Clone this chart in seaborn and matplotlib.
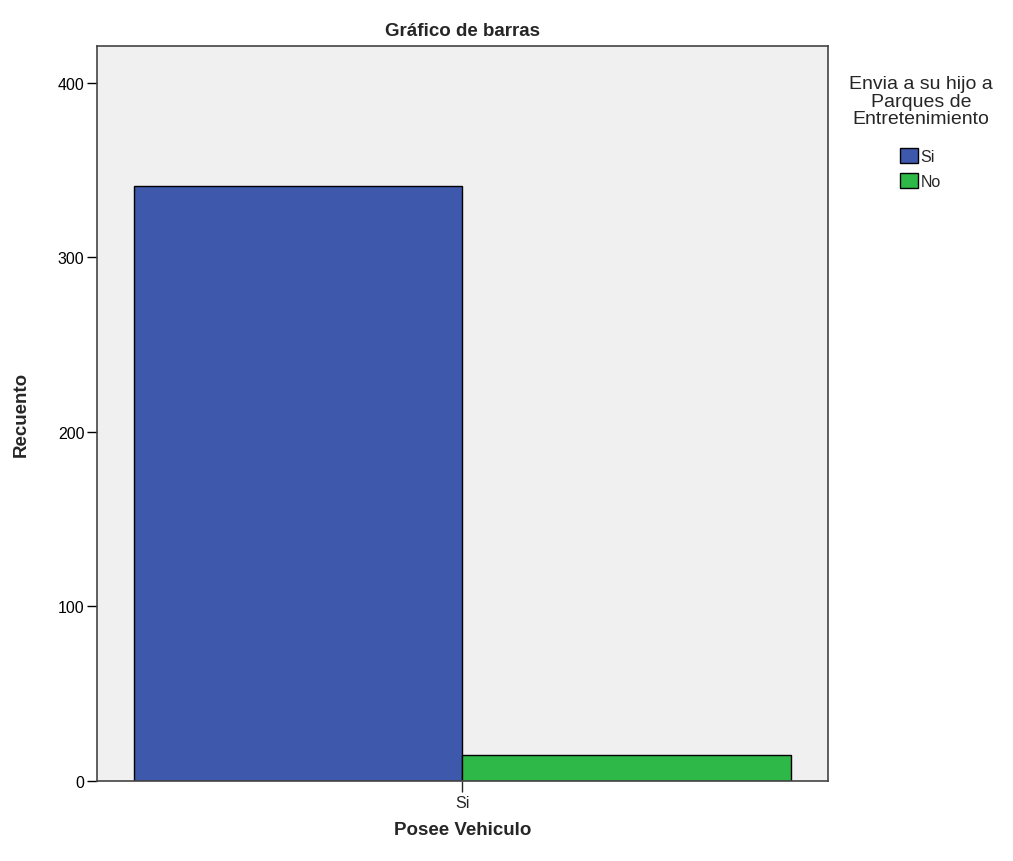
import matplotlib
matplotlib.use("Agg")
import matplotlib.pyplot as plt
import seaborn as sns
import pandas as pd
from matplotlib.patches import Patch

categories = ["Si"]
hue_levels = ["Si", "No"]
counts_si = [341]
counts_no = [15]
colors = ["#3E58AC", "#2EB848"]
legend_title = "Envia a su hijo a\nParques de\nEntretenimiento"

rows = []
for i, c in enumerate(categories):
    rows.append({"Posee Vehiculo": c, "Envia": "Si", "Recuento": counts_si[i]})
    rows.append({"Posee Vehiculo": c, "Envia": "No", "Recuento": counts_no[i]})
df = pd.DataFrame(rows)

sns.set_style("white")
plt.rcParams["font.family"] = ["Liberation Sans", "DejaVu Sans"]

fig = plt.figure(figsize=(10.13, 8.62), dpi=100)
ax = fig.add_axes([0.0958, 0.0928, 0.7212, 0.8527])
ax.set_facecolor("#F0F0F0")

sns.barplot(data=df, x="Posee Vehiculo", y="Recuento", hue="Envia",
            hue_order=hue_levels, palette=colors, width=0.9,
            edgecolor="black", linewidth=1.0, saturation=1, ax=ax, legend=False)

ax.set_xlim(-0.5, 0.5)
ax.set_ylim(0, 421)
ax.set_yticks([0, 100, 200, 300, 400])
ax.tick_params(axis="y", direction="out", length=7, width=1, labelsize=11.5, colors="black", left=True, pad=2)
ax.tick_params(axis="x", direction="out", length=8, width=1, labelsize=11.5, bottom=True, pad=2)
for s in ax.spines.values():
    s.set_color("#444444")
    s.set_linewidth(1.2)

ax.set_title("Gráfico de barras", fontsize=13.5, fontweight="bold", pad=8)
ax.set_xlabel("Posee Vehiculo", fontsize=13.5, fontweight="bold", labelpad=8)
ax.set_ylabel("Recuento", fontsize=13.5, fontweight="bold", labelpad=20)

fig.text(921 / 1013, 1 - 76 / 862, legend_title, ha="center", va="top",
         multialignment="center", fontsize=14, linespacing=1.05)

handles = [Patch(facecolor=colors[i], edgecolor="black", label=hue_levels[i]) for i in range(2)]
leg = fig.legend(handles=handles, loc="upper left",
                 bbox_to_anchor=(900 / 1013, 1 - 149 / 862), frameon=False,
                 fontsize=11.5, handlelength=1.1, handleheight=1.1,
                 handletextpad=0.2, labelspacing=0.55, borderpad=0.0, borderaxespad=0.0)

fig.savefig("out.png", dpi=100, facecolor="white")
